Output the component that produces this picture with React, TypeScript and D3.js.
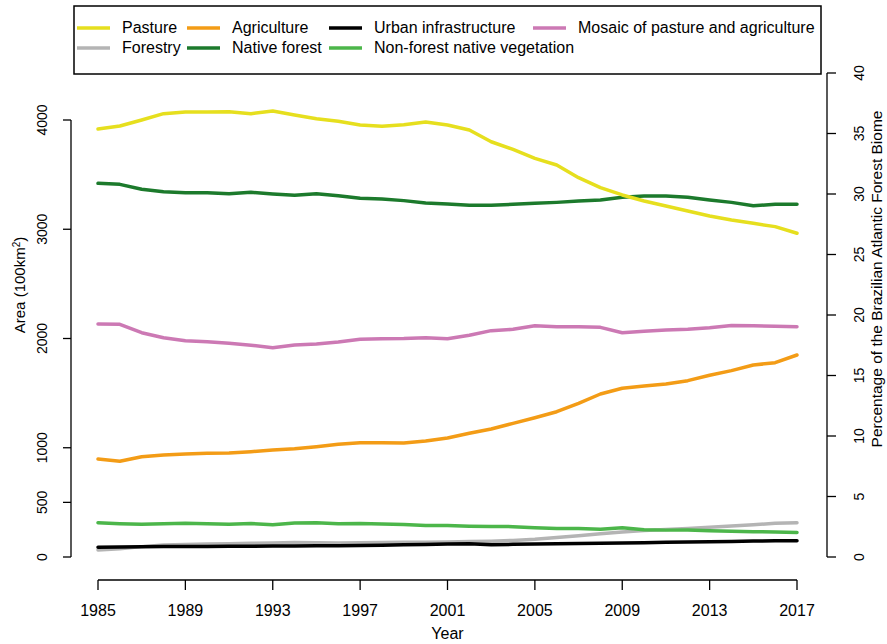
import React from "react";
import * as d3 from "d3";

const years = [1985, 1986, 1987, 1988, 1989, 1990, 1991, 1992, 1993, 1994, 1995, 1996, 1997, 1998, 1999, 2000, 2001, 2002, 2003, 2004, 2005, 2006, 2007, 2008, 2009, 2010, 2011, 2012, 2013, 2014, 2015, 2016, 2017];

const pasture = [3918, 3945, 4000, 4058, 4073, 4073, 4076, 4058, 4082, 4046, 4012, 3988, 3954, 3942, 3957, 3982, 3954, 3908, 3801, 3731, 3649, 3588, 3472, 3381, 3314, 3259, 3213, 3167, 3121, 3085, 3054, 3024, 2963];
const nativeForest = [3420, 3411, 3366, 3344, 3335, 3335, 3326, 3338, 3323, 3311, 3326, 3307, 3283, 3277, 3262, 3240, 3231, 3219, 3219, 3228, 3237, 3246, 3259, 3268, 3292, 3304, 3304, 3292, 3268, 3246, 3216, 3228, 3228];
const mosaic = [2133, 2130, 2053, 2007, 1980, 1971, 1956, 1938, 1916, 1941, 1950, 1968, 1993, 1998, 2000, 2007, 1998, 2029, 2072, 2084, 2117, 2108, 2108, 2102, 2053, 2066, 2078, 2084, 2099, 2120, 2117, 2111, 2108];
const agriculture = [897, 876, 918, 934, 943, 949, 952, 964, 979, 991, 1010, 1031, 1046, 1046, 1043, 1062, 1089, 1132, 1172, 1223, 1275, 1330, 1407, 1492, 1544, 1565, 1584, 1614, 1663, 1706, 1757, 1779, 1849];
const nonForest = [314, 305, 300, 305, 310, 305, 300, 306, 296, 312, 314, 305, 306, 302, 298, 288, 288, 282, 280, 278, 268, 260, 262, 255, 268, 250, 246, 248, 240, 236, 232, 228, 224];
const urban = [89, 92, 94, 95, 96, 97, 98, 99, 100, 101, 102, 104, 106, 108, 111, 115, 119, 122, 112, 116, 119, 121, 123, 125, 128, 131, 134, 137, 140, 143, 146, 148, 149];
const forestry = [65, 75, 95, 110, 115, 118, 122, 126, 128, 132, 130, 128, 130, 132, 134, 136, 138, 142, 145, 152, 162, 178, 195, 212, 228, 242, 252, 262, 272, 284, 296, 308, 314];

const xTicks = [1985, 1989, 1993, 1997, 2001, 2005, 2009, 2013, 2017];
const leftTicks = [0, 500, 1000, 2000, 3000, 4000];
const rightTicks = [0, 5, 10, 15, 20, 25, 30, 35, 40];

const legendRow1 = ["Pasture", "Agriculture", "Urban infrastructure", "Mosaic of pasture and agriculture"];
const legendRow2 = ["Forestry", "Native forest", "Non-forest native vegetation"];

const COLORS: Record<string, string> = {
  "Pasture": "#E6DF1E",
  "Agriculture": "#F39C16",
  "Urban infrastructure": "#000000",
  "Mosaic of pasture and agriculture": "#CC79B4",
  "Forestry": "#B4B4B4",
  "Native forest": "#1C7A2C",
  "Non-forest native vegetation": "#4CB64A",
};

const seriesDrawOrder: [string, number[]][] = [
  ["Forestry", forestry],
  ["Non-forest native vegetation", nonForest],
  ["Native forest", nativeForest],
  ["Mosaic of pasture and agriculture", mosaic],
  ["Agriculture", agriculture],
  ["Pasture", pasture],
  ["Urban infrastructure", urban],
];

const W = 887;
const H = 644;
const FONT = "'Liberation Sans', Arial, Helvetica, sans-serif";

export default function App() {
  const x = d3.scaleLinear().domain([1985, 2017]).range([98, 797]);
  const yL = d3.scaleLinear().domain([0, 4000]).range([557, 120]);
  const yR = d3.scaleLinear().domain([0, 40]).range([557, 73]);

  const line = (vals: number[]) =>
    d3
      .line<number>()
      .x((_, i) => x(years[i]))
      .y((d) => yL(d))(vals) || "";

  const axisY = 580;
  const leftX = 71;
  const rightX = 827;

  const legendTextX1 = [122, 232, 374, 578];
  const legendTextX2 = [122, 232, 374];
  const row1Y = 28;
  const row2Y = 48;

  const legendItem = (name: string, tx: number, y: number) => (
    <g key={name}>
      <line x1={tx - 45} x2={tx - 12} y1={y} y2={y} stroke={COLORS[name]} strokeWidth={3.5} />
      <text x={tx} y={y + 5} fontSize={16}>{name}</text>
    </g>
  );

  return (
    <svg
      width={W}
      height={H}
      style={{ position: "absolute", left: 0, top: 0, background: "#fff" }}
      fontFamily={FONT}
    >
      <rect x={0} y={0} width={W} height={H} fill="#fff" />
      {/* legend */}
      <rect x={74} y={6} width={747} height={68} fill="none" stroke="#000" strokeWidth={1.5} />
      {legendRow1.map((n, i) => legendItem(n, legendTextX1[i], row1Y))}
      {legendRow2.map((n, i) => legendItem(n, legendTextX2[i], row2Y))}

      {/* series */}
      {seriesDrawOrder.map(([name, vals]) => (
        <path
          key={name}
          d={line(vals)}
          fill="none"
          stroke={COLORS[name]}
          strokeWidth={3.5}
          strokeLinejoin="round"
          strokeLinecap="round"
        />
      ))}

      {/* x axis */}
      <line x1={x(1985)} x2={x(2017)} y1={axisY} y2={axisY} stroke="#000" strokeWidth={1.3} />
      {xTicks.map((t) => (
        <g key={t}>
          <line x1={x(t)} x2={x(t)} y1={axisY} y2={axisY + 10} stroke="#000" strokeWidth={1.3} />
          <text x={x(t)} y={616} textAnchor="middle" fontSize={16}>{t}</text>
        </g>
      ))}
      <text x={x(2001)} y={639} textAnchor="middle" fontSize={16}>Year</text>

      {/* left axis */}
      <line x1={leftX} x2={leftX} y1={yL(0)} y2={yL(4000)} stroke="#000" strokeWidth={1.3} />
      {leftTicks.map((t) => (
        <g key={t}>
          <line x1={leftX} x2={leftX - 8} y1={yL(t)} y2={yL(t)} stroke="#000" strokeWidth={1.3} />
          <text
            transform={`translate(47,${yL(t)}) rotate(-90)`}
            textAnchor="middle"
            fontSize={14}
          >
            {t}
          </text>
        </g>
      ))}
      <text transform={`translate(25,285) rotate(-90)`} textAnchor="middle" fontSize={15}>
        <tspan>Area (100km</tspan>
        <tspan dy={-5} fontSize={10}>2</tspan>
        <tspan dy={5}>)</tspan>
      </text>

      {/* right axis */}
      <line x1={rightX} x2={rightX} y1={yR(0)} y2={yR(40)} stroke="#000" strokeWidth={1.3} />
      {rightTicks.map((t) => (
        <g key={t}>
          <line x1={rightX} x2={rightX + 9} y1={yR(t)} y2={yR(t)} stroke="#000" strokeWidth={1.3} />
          <text
            transform={`translate(864,${yR(t)}) rotate(-90)`}
            textAnchor="middle"
            fontSize={14}
          >
            {t}
          </text>
        </g>
      ))}
      <text transform={`translate(882,279) rotate(-90)`} textAnchor="middle" fontSize={15.5}>
        Percentage of the Brazilian Atlantic Forest Biome
      </text>
    </svg>
  );
}
